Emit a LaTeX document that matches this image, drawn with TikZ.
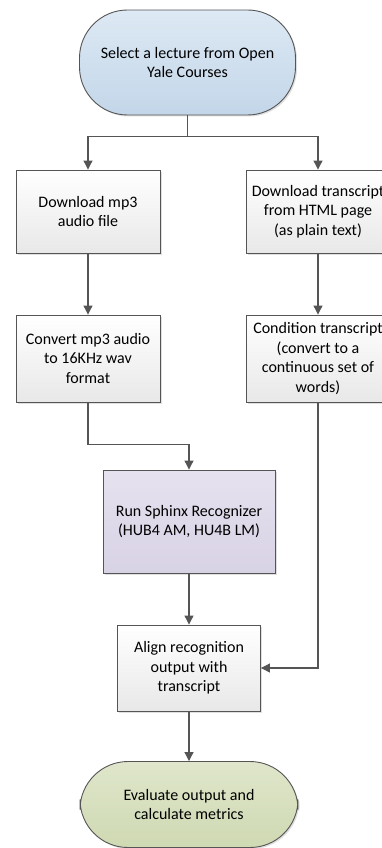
\documentclass[tikz,border=0pt]{standalone}
\usepackage{fontspec}
\setmainfont{Carlito}
\usepackage{xcolor}
\usetikzlibrary{shapes,arrows.meta,shadows,positioning}

\definecolor{edgegrey}{HTML}{555555}
\definecolor{bluetop}{HTML}{DDE9F4}
\definecolor{bluebot}{HTML}{C3D6E9}
\definecolor{greentop}{HTML}{DFE6CB}
\definecolor{greenbot}{HTML}{CFD9B2}
\definecolor{violettop}{HTML}{E6E2EF}
\definecolor{violetbot}{HTML}{D8D2E5}

\tikzstyle{box} = [rectangle, draw=edgegrey, line width=0.9pt, top color=white,
    bottom color=black!9, align=center, minimum width=144pt, minimum height=84pt,
    drop shadow={opacity=0.25, shadow xshift=1.5pt, shadow yshift=-1.5pt}]
\tikzstyle{term} = [box, rounded corners=48pt, minimum width=216pt]
\tikzstyle{line} = [draw=edgegrey, line width=1.1pt, -{Triangle[length=9pt,width=9pt]}]

\begin{document}
\begin{tikzpicture}[x=1pt, y=-1pt, font=\fontsize{16}{19.5}\selectfont]
  \clip (0,0) rectangle (382,848);
  % Place nodes
  \node [term, top color=bluetop, bottom color=bluebot, minimum height=105pt] (select)
    at (187.5,62.5) {Select a lecture from Open\\Yale Courses};
  \node [box, minimum height=83pt] (getaudio) at (88,211.5) {Download mp3\\audio file};
  \node [box, minimum height=83pt] (gettext) at (318,211.5)
    {Download transcript\\from HTML page\\(as plain text)};
  \node [box, minimum height=87pt] (convert) at (88,358.5)
    {Convert mp3 audio\\to 16KHz wav\\format};
  \node [box, minimum height=87pt] (condition) at (318,358.5)
    {Condition transcript\\(convert to a\\continuous set of\\words)};
  \node [box, top color=violettop, bottom color=violetbot, minimum width=172pt,
    minimum height=103pt] (sphinx) at (189,521.5)
    {Run Sphinx Recognizer\\(HUB4 AM, HU4B LM)};
  \node [box, minimum width=143pt, minimum height=86pt] (align) at (189,668)
    {Align recognition\\output with\\transcript};
  \node [term, top color=greentop, bottom color=greenbot, minimum width=218pt,
    minimum height=86pt] (evaluate) at (189,804.5)
    {Evaluate output and\\calculate metrics};
  % Draw edges
  \path [line] (select.south) -- ++(0,21) -| (getaudio.north);
  \path [line] (select.south) -- ++(0,21) -| (gettext.north);
  \path [line] (getaudio) -- (convert);
  \path [line] (gettext) -- (condition);
  \path [line] (convert.south) -- ++(0,42) -| (sphinx.north);
  \path [line] (condition.south) |- (align.east);
  \path [line] (sphinx) -- (align);
  \path [line] (align) -- (evaluate);
\end{tikzpicture}
\end{document}
